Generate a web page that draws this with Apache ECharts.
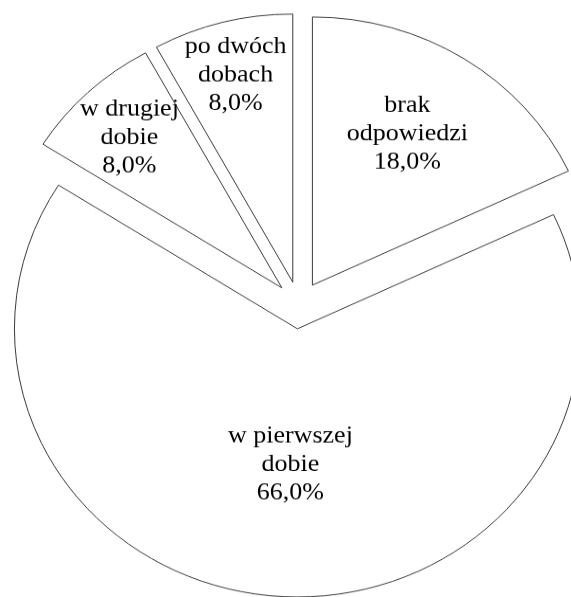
<!DOCTYPE html>
<html>
<head>
<meta charset="utf-8">
<script src="https://cdn.jsdelivr.net/npm/echarts@6/dist/echarts.min.js"></script>
<style>
  html, body { margin: 0; padding: 0; background: #fff; overflow: hidden; }
  #wrap { width: 571px; height: 597px; overflow: hidden; }
  /* the source picture is slightly squashed vertically, so the pie is an ellipse */
  #chart { width: 571px; height: 630px; transform: scaleY(0.9476); transform-origin: 0 0; }
</style>
</head>
<body>
<div id="wrap"><div id="chart"></div></div>
<script>
// DATA
var categories = ['brak\nodpowiedzi', 'w pierwszej\ndobie', 'w drugiej\ndobie', 'po dwóch\ndobach'];
var values = [18, 66, 8, 8];

// label nudges (px) from the slice's box centre, like Excel's best fit
var labelShiftX = [-33, -7, -33, 11];
var labelShiftY = [-18, 78, -35, -77];

function buildData() {
	var out = [];
	for (var i = 0; i < categories.length; i++) {
		out.push({ name: categories[i], value: values[i], selected: true });
	}
	return out;
}

var sliceStyle = { color: '#ffffff', borderColor: '#3a3a3a', borderWidth: 1 };
var labelStyle = {
	show: true,
	position: 'inside',
	color: '#000',
	fontFamily: 'Liberation Serif',
	fontSize: 26,
	lineHeight: 30,
	formatter: function (p) {
		return p.name + '\n' + p.value.toFixed(1).replace('.', ',') + '%';
	}
};

var chart = echarts.init(document.getElementById('chart'));
chart.setOption({
	animation: false,
	series: [{
		type: 'pie',
		center: [299, 322],
		radius: 283,
		startAngle: 90,
		clockwise: true,
		selectedMode: 'multiple',
		selectedOffset: 25,
		avoidLabelOverlap: false,
		itemStyle: sliceStyle,
		label: labelStyle,
		labelLine: { show: false },
		labelLayout: function (p) {
			return { dx: labelShiftX[p.dataIndex], dy: labelShiftY[p.dataIndex] };
		},
		emphasis: { disabled: true },
		select: { itemStyle: sliceStyle, label: labelStyle },
		data: buildData()
	}]
});
</script>
</body>
</html>
